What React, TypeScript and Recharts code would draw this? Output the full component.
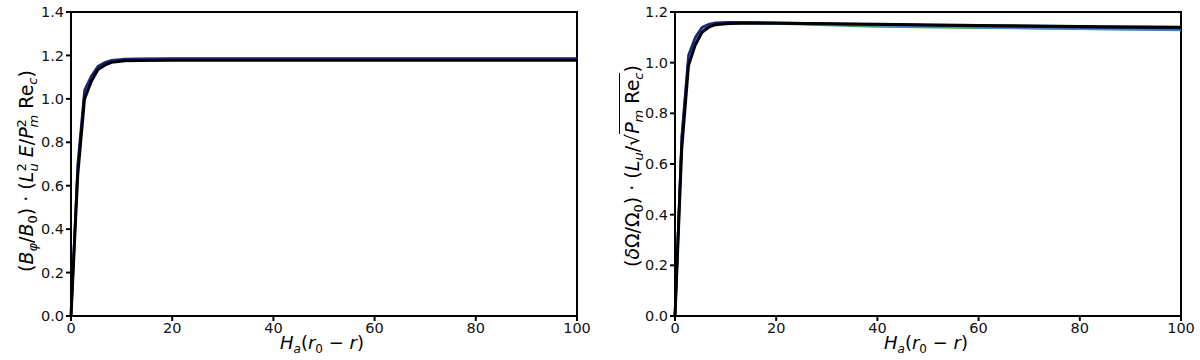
import { LineChart, Line, XAxis, YAxis, ReferenceArea } from "recharts";

// sample positions along H_a (r0 - r)
const X_VALUES = [0, 1.33, 2.67, 4, 5.33, 6.67, 8, 10.67, 13.33, 20, 40, 60, 80, 100];

// left panel: B_phi profile
const LEFT_BLACK = [0, 0.65, 1.0, 1.08, 1.135, 1.155, 1.168, 1.175, 1.177, 1.178, 1.178, 1.178, 1.178, 1.178];
const LEFT_NAVY = [0, 0.7, 1.04, 1.105, 1.15, 1.168, 1.178, 1.183, 1.185, 1.186, 1.186, 1.186, 1.186, 1.186];
const LEFT_BLUE = [0, 0.68, 1.02, 1.095, 1.145, 1.163, 1.174, 1.18, 1.182, 1.183, 1.183, 1.183, 1.183, 1.183];

// right panel: delta Omega profile
const RIGHT_BLACK = [0, 0.66, 0.99, 1.07, 1.12, 1.14, 1.15, 1.155, 1.156, 1.156, 1.152, 1.147, 1.143, 1.14];
const RIGHT_NAVY = [0, 0.71, 1.03, 1.1, 1.14, 1.152, 1.158, 1.16, 1.16, 1.158, 1.151, 1.145, 1.14, 1.136];
const RIGHT_GREEN = [0, 0.69, 1.01, 1.09, 1.13, 1.147, 1.154, 1.157, 1.157, 1.155, 1.143, 1.138, 1.134, 1.131];
const RIGHT_BLUE = [0, 0.7, 1.02, 1.095, 1.135, 1.15, 1.156, 1.158, 1.158, 1.156, 1.148, 1.14, 1.134, 1.129];

const X_TICKS = [0, 20, 40, 60, 80, 100];
const LEFT_Y_TICKS = [0, 0.2, 0.4, 0.6, 0.8, 1.0, 1.2, 1.4];
const RIGHT_Y_TICKS = [0, 0.2, 0.4, 0.6, 0.8, 1.0, 1.2];

const COLORS = { black: "#000000", navy: "#1c2680", blue: "#4a86c8", green: "#3fa553" };

const FONT = "'DejaVu Sans', sans-serif";

function rows(series: Record<string, number[]>) {
  return X_VALUES.map((x, i) => {
    const r: Record<string, number> = { x };
    Object.entries(series).forEach(([k, v]) => (r[k] = v[i]));
    return r;
  });
}

const leftData = rows({ black: LEFT_BLACK, navy: LEFT_NAVY, blue: LEFT_BLUE });
const rightData = rows({ black: RIGHT_BLACK, navy: RIGHT_NAVY, green: RIGHT_GREEN, blue: RIGHT_BLUE });

const tick = { fontSize: 14.5, fill: "#111", fontFamily: FONT };

function Panel({
  data,
  yMax,
  yTicks,
  keys,
}: {
  data: Record<string, number>[];
  yMax: number;
  yTicks: number[];
  keys: (keyof typeof COLORS)[];
}) {
  return (
    <LineChart width={600} height={360} data={data} margin={{ top: 12, right: 23, left: 31, bottom: 14 }}>
      <XAxis
        dataKey="x"
        type="number"
        domain={[0, 100]}
        ticks={X_TICKS}
        tick={tick}
        stroke="#000"
        strokeWidth={2}
        tickSize={5}
        height={30}
        interval={0}
      />
      <YAxis
        type="number"
        domain={[0, yMax]}
        ticks={yTicks}
        tick={tick}
        stroke="#000"
        strokeWidth={2}
        tickSize={5}
        width={40}
        interval={0}
        tickFormatter={(v) => v.toFixed(1)}
      />
      {keys.map((k) => (
        <Line
          key={k}
          dataKey={k}
          stroke={COLORS[k]}
          strokeWidth={k === "black" ? 3 : 2.5}
          dot={false}
          isAnimationActive={false}
          type="linear"
        />
      ))}
      <ReferenceArea x1={0} x2={100} y1={0} y2={yMax} fill="none" stroke="#000" strokeWidth={2} />
    </LineChart>
  );
}

const labelStyle: React.CSSProperties = {
  position: "absolute",
  fontFamily: FONT,
  fontSize: 19,
  whiteSpace: "nowrap",
  color: "#000",
};

const sub: React.CSSProperties = { fontSize: 13, verticalAlign: "-4px", lineHeight: 0 };
const stack: React.CSSProperties = {
  display: "inline-flex",
  flexDirection: "column",
  verticalAlign: "middle",
  lineHeight: "12px",
  fontSize: 13,
};

function XLabel({ cx }: { cx: number }) {
  return (
    <div style={{ ...labelStyle, fontSize: 18, left: cx, top: 332, transform: "translateX(-50%)" }}>
      <i>H</i>
      <i style={{ ...sub, fontSize: 12 }}>a</i>(<i>r</i>
      <span style={{ ...sub, fontSize: 12 }}>0</span> − <i>r</i>)
    </div>
  );
}

export default function App() {
  return (
    <div style={{ position: "absolute", left: 0, top: 0, width: 1200, height: 360, background: "#fff" }}>
      <div style={{ position: "absolute", left: 0, top: 0 }}>
        <Panel data={leftData} yMax={1.4} yTicks={LEFT_Y_TICKS} keys={["blue", "navy", "black"]} />
      </div>
      <div style={{ position: "absolute", left: 604, top: 0 }}>
        <Panel data={rightData} yMax={1.2} yTicks={RIGHT_Y_TICKS} keys={["green", "blue", "navy", "black"]} />
      </div>

      <div
        style={{
          ...labelStyle,
          left: 27,
          top: 171,
          transform: "translate(-50%, -50%) rotate(-90deg)",
        }}
      >
        (<i>B</i>
        <i style={sub}>φ</i>/<i>B</i>
        <span style={sub}>0</span>) · (<i>L</i>
        <span style={stack}>
          <span>2</span>
          <i>u</i>
        </span>{" "}
        <i>E</i>/<i>P</i>
        <span style={stack}>
          <span>2</span>
          <i>m</i>
        </span>{" "}
        Re<i style={sub}>c</i>)
      </div>

      <div
        style={{
          ...labelStyle,
          left: 632,
          top: 166,
          transform: "translate(-50%, -50%) rotate(-90deg)",
        }}
      >
        (<i>δ</i>Ω/Ω<span style={sub}>0</span>) · (<i>L</i>
        <i style={sub}>u</i>/√
        <span style={{ borderTop: "1.5px solid #000", paddingTop: 1 }}>
          <i>P</i>
          <i style={sub}>m</i> Re<i style={sub}>c</i>
        </span>
        )
      </div>

      <XLabel cx={322} />
      <XLabel cx={926} />
    </div>
  );
}
